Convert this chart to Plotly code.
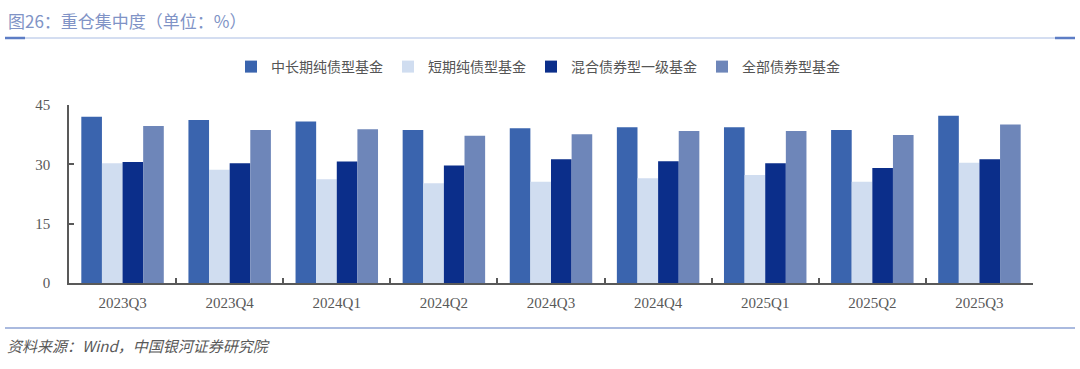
import plotly.graph_objects as go

categories = ["2023Q3", "2023Q4", "2024Q1", "2024Q2", "2024Q3", "2024Q4", "2025Q1", "2025Q2", "2025Q3"]
series_names = ["中长期纯债型基金", "短期纯债型基金", "混合债券型一级基金", "全部债券型基金"]
mid_long = [42.0, 41.2, 40.8, 38.7, 39.1, 39.4, 39.4, 38.7, 42.3]
short_term = [30.3, 28.6, 26.2, 25.2, 25.6, 26.5, 27.3, 25.6, 30.4]
mixed_1 = [30.6, 30.3, 30.7, 29.7, 31.3, 30.8, 30.3, 29.1, 31.3]
all_bond = [39.7, 38.7, 38.9, 37.2, 37.6, 38.4, 38.4, 37.4, 40.1]
y_ticks = [0, 15, 30, 45]

colors = ["#3A64AE", "#D0DDF0", "#0B2E8A", "#6E86B9"]
values = [mid_long, short_term, mixed_1, all_bond]

fig = go.Figure()
for name, vals, c in zip(series_names, values, colors):
    fig.add_trace(go.Bar(
        x=categories, y=vals, name=name,
        marker=dict(color=c, line=dict(width=0)),
    ))

L, R, T, B = 69, 47, 105, 86
W = 1080 - L - R
plot_h = 369 - T - B

def px_x(px):
    return (px - L) / W

def px_y(py):
    return (369 - B - py) / plot_h

fig.update_layout(
    width=1080, height=369,
    margin=dict(l=L, r=R, t=T, b=B),
    paper_bgcolor="white", plot_bgcolor="white",
    barmode="group", bargap=0.23, bargroupgap=0,
    showlegend=True,
    legend=dict(
        orientation="h", x=px_x(538), xanchor="center",
        y=px_y(67), yref="paper", yanchor="middle",
        font=dict(family="Noto Sans CJK SC", size=14, color="#555555"),
        itemwidth=30, traceorder="normal",
    ),
    font=dict(family="Liberation Serif", color="#595959"),
)

fig.update_xaxes(
    showline=True, linecolor="#595959", linewidth=1.5,
    ticks="inside", tickson="boundaries", ticklen=5, tickcolor="#595959", tickwidth=1.5,
    showgrid=False,
    tickfont=dict(family="Liberation Serif", size=15, color="#595959"),
    ticklabelstandoff=5,
)
fig.update_yaxes(
    range=[0, 45], tickvals=y_ticks,
    showline=True, linecolor="#595959", linewidth=1.5,
    ticks="inside", ticklen=5, tickcolor="#595959", tickwidth=1.5,
    showgrid=False, zeroline=False,
    tickfont=dict(family="Liberation Serif", size=15, color="#595959"),
    ticklabelstandoff=14,
)

# Title
fig.add_annotation(
    text="图26：重仓集中度（单位：%）",
    xref="paper", yref="paper", x=px_x(6), y=px_y(21), xanchor="left", yanchor="middle",
    showarrow=False,
    font=dict(family="Noto Sans CJK SC", size=17, color="#8093C6"),
)

# Footer
fig.add_annotation(
    text="<i>资料来源：Wind，中国银河证券研究院</i>",
    xref="paper", yref="paper", x=px_x(5), y=px_y(345),
    xanchor="left", yanchor="middle", showarrow=False,
    font=dict(family="Noto Sans CJK SC", size=15, color="#595959"),
)

# Decorative rules
fig.add_shape(type="line", xref="paper", yref="paper",
              x0=px_x(5), x1=px_x(1075), y0=px_y(38), y1=px_y(38),
              line=dict(color="#A9BCE3", width=1))
fig.add_shape(type="line", xref="paper", yref="paper",
              x0=px_x(5), x1=px_x(25), y0=px_y(38), y1=px_y(38),
              line=dict(color="#5D7DC5", width=2.5))
fig.add_shape(type="line", xref="paper", yref="paper",
              x0=px_x(1055), x1=px_x(1075), y0=px_y(38), y1=px_y(38),
              line=dict(color="#5D7DC5", width=2.5))
fig.add_shape(type="line", xref="paper", yref="paper",
              x0=px_x(5), x1=px_x(1075), y0=px_y(328), y1=px_y(328),
              line=dict(color="#8EA3D4", width=1.5))

fig.write_html("out.html", config={"displayModeBar": False},
               post_script="document.body.style.margin='0';")
